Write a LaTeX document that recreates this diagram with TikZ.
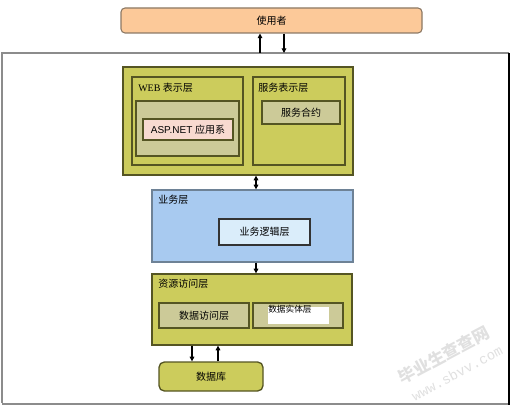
\documentclass[tikz,border=0pt]{standalone}
\usepackage{fontspec}
\setmainfont{Liberation Serif}
\newfontfamily\cjk{Noto Sans CJK SC}
\usetikzlibrary{arrows.meta,fit}
\definecolor{peach}{RGB}{252,201,153}
\definecolor{peachline}{RGB}{140,120,100}
\definecolor{olivefill}{RGB}{204,204,92}
\definecolor{oliveline}{RGB}{85,85,35}
\definecolor{khaki}{RGB}{204,202,152}
\definecolor{pinkfill}{RGB}{248,218,208}
\definecolor{bluefill}{RGB}{168,202,240}
\definecolor{blueline}{RGB}{110,130,150}
\definecolor{lightblue}{RGB}{218,237,250}
\definecolor{framegray}{RGB}{140,140,140}
\begin{document}
\begin{tikzpicture}[x=0.75pt,y=-0.75pt,
  every node/.style={font=\cjk\fontsize{7.5}{9}\selectfont},
  boxa/.style={draw=oliveline, line width=1pt, fill=olivefill, inner sep=0pt},
  boxk/.style={draw=oliveline, line width=1pt, fill=khaki, inner sep=0pt},
  lbl/.style={anchor=north west, inner sep=0pt},
  conn/.style={line width=0.8pt, -{Triangle[length=3.5pt,width=3.5pt]}},
  conn2/.style={line width=0.8pt, {Triangle[length=3.5pt,width=3.5pt]}-{Triangle[length=3.5pt,width=3.5pt]}}]
\useasboundingbox (0,0) rectangle (514,406);
% outer frame
\draw[framegray, line width=1.5pt] (509,53) -- (2,53) -- (2,403);
\draw[framegray, line width=2.2pt] (2,404) -- (509,404);
\draw[black, line width=1.2pt] (509,53) -- (509,405);
% user
\node[draw=peachline, line width=0.8pt, fill=peach, rounded corners=3pt, minimum width=301*0.75pt, minimum height=25*0.75pt] (user) at (271.5,20.5) {使用者};
\coordinate (ua) at (260,53);
\coordinate (ub) at (284,53);
% presentation
\node[boxa, fit={(123,67) (353,175)}] (pres) {};
\node[boxa, fit={(132,77) (243,165)}] (web) {};
\node[lbl] (webl) at (138,83) {\fontspec{Liberation Serif}WEB {\cjk 表示层}};
\node[boxk, fit={(136,101) (239,156)}] (webin) {};
\node[draw=oliveline, line width=1pt, fill=pinkfill, inner sep=0pt, minimum width=90*0.75pt, minimum height=21*0.75pt] (asp) at (188,129.5) {\fontspec{Liberation Sans}ASP.NET {\cjk 应用系}};
\node[boxa, fit={(253,77) (345,165)}] (svc) {};
\node[lbl] (svcl) at (258,83) {服务表示层};
\node[boxk, minimum width=78*0.75pt, minimum height=23*0.75pt] (contract) at (301,112.5) {服务合约};
% business
\node[draw=blueline, line width=1pt, fill=bluefill, inner sep=0pt, fit={(152,190) (353,262)}] (biz) {};
\node[lbl] (bizl) at (158,195) {业务层};
\node[draw=black!80, line width=0.9pt, fill=lightblue, inner sep=0pt, minimum width=91*0.75pt, minimum height=26*0.75pt] (logic) at (264.5,232) {业务逻辑层};
% resource access
\node[boxa, fit={(152,274) (352,345)}] (res) {};
\node[lbl] (resl) at (158,279) {资源访问层};
\node[boxk, minimum width=90*0.75pt, minimum height=25*0.75pt] (dal) at (204,315.5) {数据访问层};
\node[boxk, fit={(253,303) (343,328)}] (ent) {};
\node[fill=white, inner sep=0pt, fit={(268,307) (329,324)}] (entw) {};
\node[lbl, font=\cjk\fontsize{6.5}{8}\selectfont] (entl) at (268,305) {数据实体层};
% database
\node[draw=oliveline, line width=1pt, fill=olivefill, rounded corners=4pt, minimum width=104*0.75pt, minimum height=29*0.75pt] (db) at (211,376.5) {数据库};
% connectors
\coordinate (ax) at (256,0);
\coordinate (dx) at (192,0);
\coordinate (ex) at (218,0);
\draw[conn] (ua) -- (ua |- user.south);
\draw[conn] (ub |- user.south) -- (ub);
\draw[conn2] (pres.south -| ax) -- (biz.north -| ax);
\draw[conn] (biz.south -| ax) -- (res.north -| ax);
\draw[conn] (res.south -| dx) -- (db.north -| dx);
\draw[conn] (db.north -| ex) -- (res.south -| ex);
% watermark
\node[rotate=28, inner sep=0pt, text=black!12, font=\cjk\fontsize{12.5}{13}\selectfont\bfseries] (wm1) at (444,355) {毕业生查查网};
\node[rotate=28, inner sep=0pt, text=black!12, font=\fontspec{Liberation Mono}\fontsize{10.5}{11}\selectfont] (wm2) at (457,373) {www.sbvv.com};
\end{tikzpicture}
\end{document}
